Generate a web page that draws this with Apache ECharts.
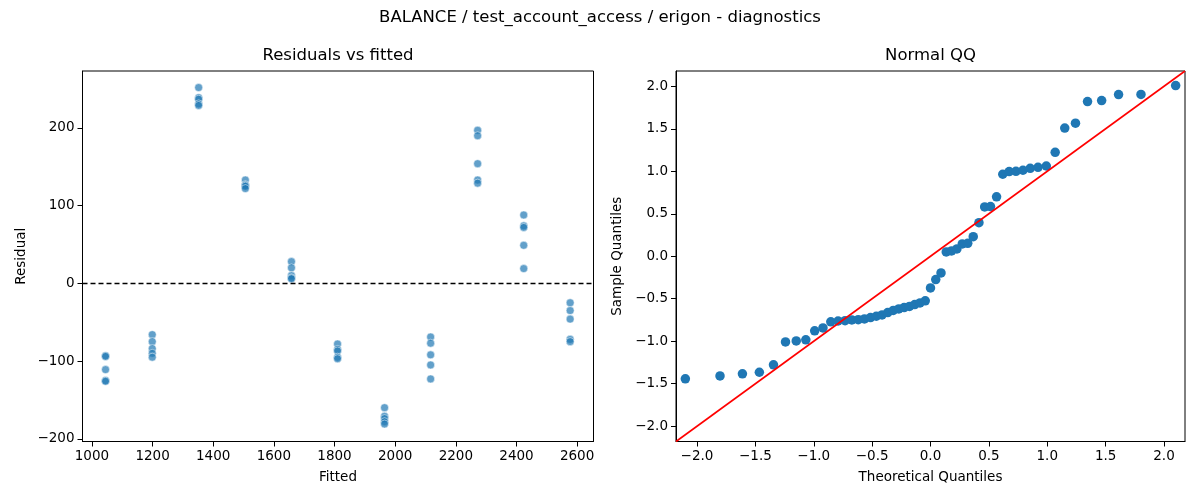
<!DOCTYPE html>
<html>
<head>
<meta charset="utf-8">
<script src="https://cdn.jsdelivr.net/npm/echarts@6/dist/echarts.min.js"></script>
<style>
  html, body { margin: 0; padding: 0; background: #fff; }
  #main { width: 1200px; height: 500px; }
</style>
</head>
<body>
<div id="main"></div>
<script>
// fitted value of each group (x position of the columns on the left panel)
const fitted = [1045, 1199, 1352, 1506, 1658, 1810, 1965, 2117, 2272, 2424, 2577];
// residuals per group, same order as fitted
const residuals = [
  [-93, -94, -111, -125, -126],
  [-66, -75, -84, -90, -95],
  [252, 239, 237, 231, 229],
  [133, 127, 126, 125, 122],
  [28, 20, 10, 7, 6],
  [-78, -85, -87, -95, -97],
  [-160, -171, -174, -178, -181],
  [-69, -77, -92, -105, -123],
  [197, 190, 154, 133, 129],
  [88, 74, 72, 49, 19],
  [-25, -35, -46, -72, -75]
];

// normal QQ
const theoretical = [
  -2.100, -1.803, -1.611, -1.466, -1.345, -1.242, -1.150, -1.068, -0.992, -0.921,
  -0.854, -0.792, -0.732, -0.674, -0.619, -0.566, -0.514, -0.464, -0.415, -0.366,
  -0.319, -0.272, -0.226, -0.180, -0.135, -0.090, -0.045, 0.000, 0.045, 0.090,
  0.135, 0.180, 0.226, 0.272, 0.319, 0.366, 0.415, 0.464, 0.514, 0.566,
  0.619, 0.674, 0.732, 0.792, 0.854, 0.921, 0.992, 1.068, 1.150, 1.242,
  1.345, 1.466, 1.611, 1.803, 2.100
];
const sample = [
  -1.443, -1.408, -1.384, -1.365, -1.278, -1.008, -0.996, -0.984, -0.878, -0.843,
  -0.772, -0.762, -0.758, -0.750, -0.746, -0.738, -0.722, -0.706, -0.690, -0.663,
  -0.637, -0.620, -0.604, -0.590, -0.569, -0.549, -0.525, -0.373, -0.275, -0.196,
  0.051, 0.062, 0.086, 0.145, 0.152, 0.230, 0.395, 0.580, 0.584, 0.699,
  0.965, 0.996, 1.000, 1.012, 1.035, 1.047, 1.062, 1.223, 1.508, 1.566,
  1.820, 1.832, 1.902, 1.904, 2.008
];

const fittedTicks = [1000, 1200, 1400, 1600, 1800, 2000, 2200, 2400, 2600];
const residTicks = [-200, -100, 0, 100, 200];
const qqTicks = [-2.0, -1.5, -1.0, -0.5, 0.0, 0.5, 1.0, 1.5, 2.0];
const qqLim = 2.18;

const FONT = 'DejaVu Sans';
const minus = s => String(s).replace('-', '\u2212');

const residPoints = [];
fitted.forEach((f, i) => residuals[i].forEach(r => residPoints.push([f, r])));
const qqPoints = theoretical.map((t, i) => [t, sample[i]]);

function axisCommon(ticks, fmt) {
  return {
    axisLine: { show: true, onZero: false, lineStyle: { color: '#000', width: 1 } },
    axisTick: { show: true, inside: false, length: 5, lineStyle: { color: '#000', width: 1 }, customValues: ticks },
    axisLabel: { color: '#000', fontFamily: FONT, fontSize: 13.5, customValues: ticks, formatter: fmt },
    splitLine: { show: false },
    nameLocation: 'middle',
    nameTextStyle: { color: '#000', fontFamily: FONT, fontSize: 13.5 }
  };
}

const chart = echarts.init(document.getElementById('main'));
chart.setOption({
  animation: false,
  backgroundColor: '#fff',
  grid: [
    { left: 82.5, top: 71, width: 511, height: 370.5, show: true, borderColor: '#000', borderWidth: 1 },
    { left: 676, top: 71, width: 509, height: 370.5, show: true, borderColor: '#000', borderWidth: 1 }
  ],
  xAxis: [
    Object.assign(axisCommon(fittedTicks, v => minus(v)), {
      type: 'value', gridIndex: 0, min: 969, max: 2654, name: 'Fitted', nameGap: 29
    }),
    Object.assign(axisCommon(qqTicks, v => minus(v.toFixed(1))), {
      type: 'value', gridIndex: 1, min: -qqLim, max: qqLim, name: 'Theoretical Quantiles', nameGap: 29
    })
  ],
  yAxis: [
    Object.assign(axisCommon(residTicks, v => minus(v)), {
      type: 'value', gridIndex: 0, min: -203.5, max: 273.3, name: 'Residual', nameGap: 54
    }),
    Object.assign(axisCommon(qqTicks, v => minus(v.toFixed(1))), {
      type: 'value', gridIndex: 1, min: -qqLim, max: qqLim, name: 'Sample Quantiles', nameGap: 52
    })
  ],
  series: [
    {
      type: 'scatter', xAxisIndex: 0, yAxisIndex: 0,
      data: residPoints,
      symbolSize: 8,
      itemStyle: { color: '#1f77b4', opacity: 0.7, borderColor: '#fff', borderWidth: 0.7 },
      markLine: {
        silent: true, symbol: 'none', label: { show: false },
        lineStyle: { color: '#000', type: [5, 3], width: 1.3 },
        data: [{ yAxis: 0 }]
      },
      z: 2
    },
    {
      type: 'scatter', xAxisIndex: 1, yAxisIndex: 1,
      data: qqPoints,
      symbolSize: 9.5,
      itemStyle: { color: '#1f77b4', opacity: 1 },
      z: 2
    },
    {
      type: 'line', xAxisIndex: 1, yAxisIndex: 1,
      data: [[-qqLim, -qqLim], [qqLim, qqLim]],
      showSymbol: false, symbol: 'none',
      lineStyle: { color: '#ff0000', width: 1.6 },
      z: 3
    }
  ],
  graphic: [
    { type: 'text', x: 600, y: 18, style: { text: 'BALANCE / test_account_access / erigon - diagnostics', fill: '#000', font: '16.5px "DejaVu Sans"', textAlign: 'center', textVerticalAlign: 'middle' } },
    { type: 'text', x: 338, y: 56, style: { text: 'Residuals vs fitted', fill: '#000', font: '16.5px "DejaVu Sans"', textAlign: 'center', textVerticalAlign: 'middle' } },
    { type: 'text', x: 930.5, y: 56, style: { text: 'Normal QQ', fill: '#000', font: '16.5px "DejaVu Sans"', textAlign: 'center', textVerticalAlign: 'middle' } }
  ]
});
</script>
</body>
</html>
